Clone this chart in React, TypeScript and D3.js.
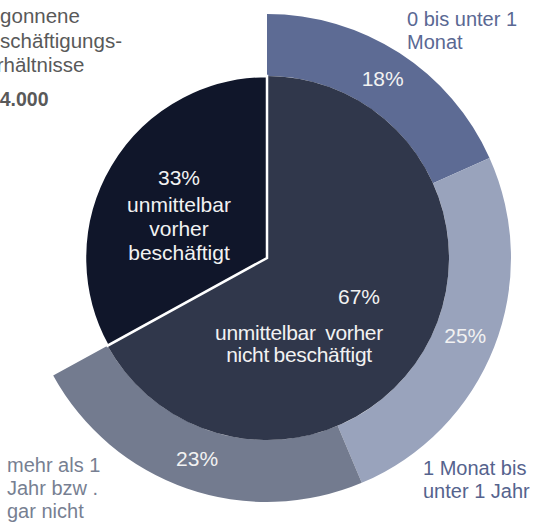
import React from 'react';
import {pie, arc} from 'd3';

// inneres Kreisdiagramm
const innerLabels = ['unmittelbar vorher nicht beschäftigt', 'unmittelbar vorher beschäftigt'];
const innerValues = [67, 33];
// äußerer Ring (nur für "nicht beschäftigt")
const outerLabels = [['0 bis unter 1', 'Monat'], ['1 Monat bis', 'unter 1 Jahr'], ['mehr als 1', 'Jahr bzw .', 'gar nicht']];
const outerValues = [18, 25, 23];
const titleLines = ['Begonnene', 'Beschäftigungs-', 'verhältnisse'];
const totalLabel = '184.000';

const W = 536, H = 525;
const cx = 267, cy = 258;
const rInner = 182, rOuter = 244;
const font = '"Liberation Sans", Arial, sans-serif';

const innerColors = ['#30374b', '#10162a'];
const outerColors = ['#5d6b94', '#99a3bc', '#737b8f'];
const outerTextColors = ['#5a6893', '#55638d', '#777f92'];

const App = () => {
    const innerArcs = pie<number>().sort(null).value(d => d)(innerValues);
    const splitAngle = innerArcs[0].endAngle; // Ende von 67%
    const outerArcs = pie<number>().sort(null).startAngle(0).endAngle(splitAngle).value(d => d)(outerValues);

    const innerArc = arc<any>().innerRadius(0).outerRadius(rInner);
    const outerArc = arc<any>().innerRadius(rInner).outerRadius(rOuter);

    // Position der Ring-Beschriftungen außen
    const outerLabelPos = [
        {x: 407, y: 26},
        {x: 423, y: 475},
        {x: 7, y: 472},
    ];

    return (
        <svg width={W} height={H} style={{position: 'absolute', left: 0, top: 0}} fontFamily={font}>
            <g transform={`translate(${cx},${cy})`}>
                {outerArcs.map((a, i) => (
                    <path key={'o' + i} d={outerArc(a) as string} fill={outerColors[i]}/>
                ))}
                <path d={innerArc(innerArcs[0]) as string} fill={innerColors[0]}/>
                <path d={innerArc(innerArcs[1]) as string} fill={innerColors[1]} stroke="#fff" strokeWidth={2.5}
                      strokeLinejoin="miter"/>
                {outerArcs.map((a, i) => {
                    const [x, y] = outerArc.centroid(a);
                    return (
                        <text key={'p' + i} x={x} y={y + 7} textAnchor="middle" fontSize={21} fill="#f2f2f2">
                            {outerValues[i]}%
                        </text>
                    );
                })}
            </g>

            {/* 67% */}
            <text x={359} y={304} textAnchor="middle" fontSize={21} fill="#f2f2f2">{innerValues[0]}%</text>
            <text x={299} y={340} textAnchor="middle" fontSize={21} fill="#f2f2f2" letterSpacing={-0.3} wordSpacing={4}>unmittelbar vorher</text>
            <text x={299} y={362} textAnchor="middle" fontSize={21} fill="#f2f2f2" letterSpacing={-0.3} wordSpacing={-1}>nicht beschäftigt</text>

            {/* 33% */}
            <text x={179} y={185} textAnchor="middle" fontSize={21} fill="#f2f2f2">{innerValues[1]}%</text>
            {['unmittelbar', 'vorher', 'beschäftigt'].map((t, i) => (
                <text key={t} x={179} y={212 + i * 24} textAnchor="middle" fontSize={21} fill="#f2f2f2">{t}</text>
            ))}

            {outerLabels.map((lines, i) => (
                <text key={'l' + i} fontSize={20} fill={outerTextColors[i]}>
                    {lines.map((l, j) => (
                        <tspan key={j} x={outerLabelPos[i].x} y={outerLabelPos[i].y + j * 23}>{l}</tspan>
                    ))}
                </text>
            ))}

            {titleLines.map((t, i) => (
                <text key={t} x={-25} y={23 + i * 24.5} fontSize={20.5} fill="#595959">{t}</text>
            ))}
            <text x={-22} y={106} fontSize={19.5} fontWeight="bold" fill="#595959">{totalLabel}</text>
        </svg>
    );
};

export default App;
